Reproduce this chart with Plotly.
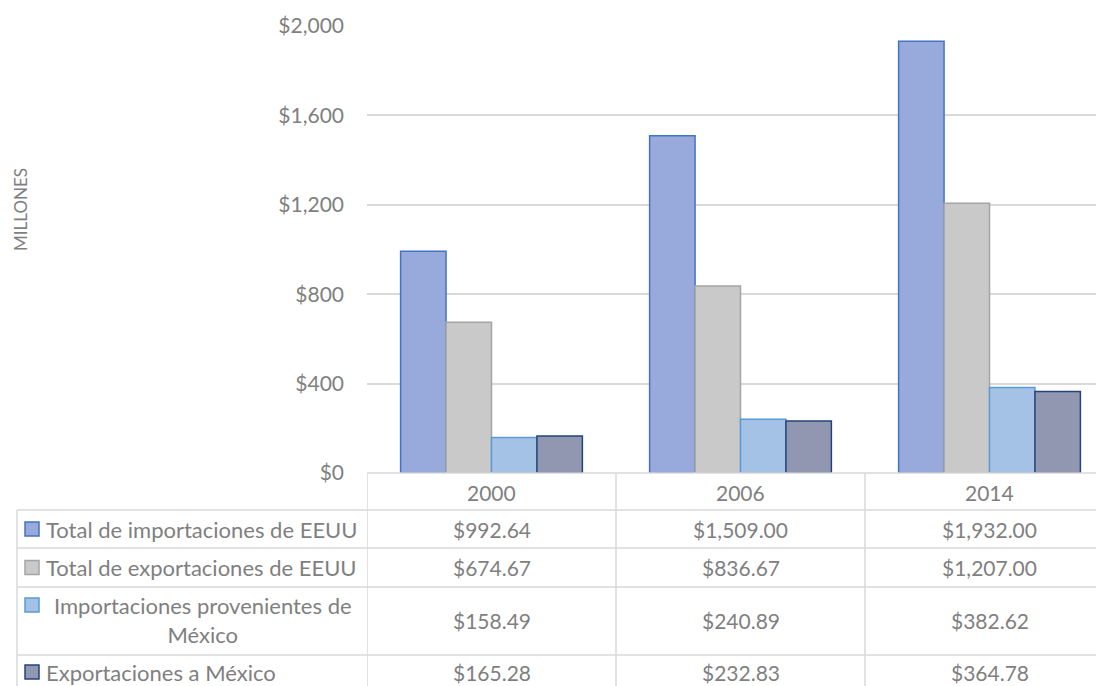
import plotly.graph_objects as go

years = ["2000", "2006", "2014"]
series_names = [
    "Total de importaciones de EEUU",
    "Total de exportaciones de EEUU",
    "Importaciones provenientes de México",
    "Exportaciones a México",
]
imp_total = [992.64, 1509.00, 1932.00]
exp_total = [674.67, 836.67, 1207.00]
imp_mex = [158.49, 240.89, 382.62]
exp_mex = [165.28, 232.83, 364.78]
y_ticks = [0, 400, 800, 1200, 1600, 2000]

values = [imp_total, exp_total, imp_mex, exp_mex]
fills = ["#98aadb", "#c9c9c9", "#a3c2e6", "#9197b0"]
borders = ["#4472c4", "#a5a5a5", "#5b9bd5", "#264478"]

OFF = 8  # page body margin
W, H = 1104 - OFF, 686 - OFF
L, T = 367 - OFF, 26 - OFF
B0 = 473 - OFF  # y pixel of zero line
pw = W - L
ph = B0 - T

FONT = "Lato"
TXT = "#7f7f7f"
GRID = "#d9d9d9"
FS = 21
FS_LEG = 22

def px(x):
    return (x - OFF - L) / pw

def py(y):
    return (B0 - (y - OFF)) / ph

fig = go.Figure()
for name, vals, fc, bc in zip(series_names, values, fills, borders):
    fig.add_trace(go.Bar(
        x=years, y=vals, name=name,
        marker=dict(color=fc, line=dict(color=bc, width=1.5)),
    ))

shapes = []
annotations = []

# table geometry (reference page pixels)
rows = [473, 510, 548, 587, 655, 720]
left_edge = 17
for i, yy in enumerate(rows[:-1]):
    x0 = 367 if i == 0 else left_edge
    shapes.append(dict(type="line", xref="paper", yref="paper",
                       x0=px(x0), x1=1, y0=py(yy), y1=py(yy),
                       line=dict(color=GRID, width=1.5)))
shapes.append(dict(type="line", xref="paper", yref="paper",
                   x0=px(left_edge), x1=px(left_edge), y0=py(rows[1]), y1=py(rows[-1]),
                   line=dict(color=GRID, width=1.5)))
for xv in [-0.5, 0.5, 1.5]:
    shapes.append(dict(type="line", xref="x", yref="paper",
                       x0=xv, x1=xv, y0=py(rows[0]), y1=py(rows[-1]),
                       line=dict(color=GRID, width=1.5)))

for i, yr in enumerate(years):
    annotations.append(dict(x=i, xref="x", y=py(492), yref="paper",
                            text=yr, showarrow=False, xanchor="center", yanchor="middle",
                            font=dict(family=FONT, size=FS, color=TXT)))

row_centers = [529, 567.5, 620, 672]
for r, (name, vals, fc, bc) in enumerate(zip(series_names, values, fills, borders)):
    yc = row_centers[r]
    for i, v in enumerate(vals):
        annotations.append(dict(x=i, xref="x", y=py(yc), yref="paper",
                                text="${:,.2f}".format(v), showarrow=False,
                                xanchor="center", yanchor="middle",
                                font=dict(family=FONT, size=FS, color=TXT)))
    if r == 2:
        my = 605
        annotations.append(dict(x=px(203), xref="paper", y=py(yc), yref="paper",
                                text="Importaciones provenientes de<br>México", showarrow=False,
                                xanchor="center", yanchor="middle", align="center",
                                font=dict(family=FONT, size=FS_LEG, color=TXT)))
    else:
        my = yc
        annotations.append(dict(x=px(44), xref="paper", y=py(yc), yref="paper",
                                text=name, showarrow=False,
                                xanchor="left", yanchor="middle",
                                font=dict(family=FONT, size=FS_LEG, color=TXT)))
    shapes.append(dict(type="rect", xref="paper", yref="paper",
                       x0=px(25), x1=px(39), y0=py(my - 7), y1=py(my + 7),
                       fillcolor=fc, line=dict(color=bc, width=1.5)))

annotations.append(dict(x=px(20), xref="paper", y=py(210), yref="paper",
                        text="MILLONES", textangle=-90, showarrow=False,
                        xanchor="center", yanchor="middle",
                        font=dict(family=FONT, size=17, color=TXT)))

fig.update_layout(
    width=W, height=H,
    margin=dict(l=L, r=0, t=T, b=H - B0, pad=0),
    paper_bgcolor="white", plot_bgcolor="white",
    showlegend=False,
    barmode="group", bargap=0.27, bargroupgap=0,
    font=dict(family=FONT, size=FS, color=TXT),
    shapes=shapes, annotations=annotations,
)
fig.update_xaxes(type="category", range=[-0.5, -0.5 + pw / 249.0],
                 showticklabels=False, showgrid=False, zeroline=False, showline=False,
                 ticks="")
fig.update_yaxes(range=[0, 2000], tickvals=y_ticks,
                 ticktext=["${:,}".format(v) for v in y_ticks],
                 showgrid=True, gridcolor=GRID, gridwidth=1.5,
                 zeroline=False, showline=False, ticks="",
                 ticklabelstandoff=22,
                 tickfont=dict(family=FONT, size=FS, color=TXT))

fig.write_html("out.html")
